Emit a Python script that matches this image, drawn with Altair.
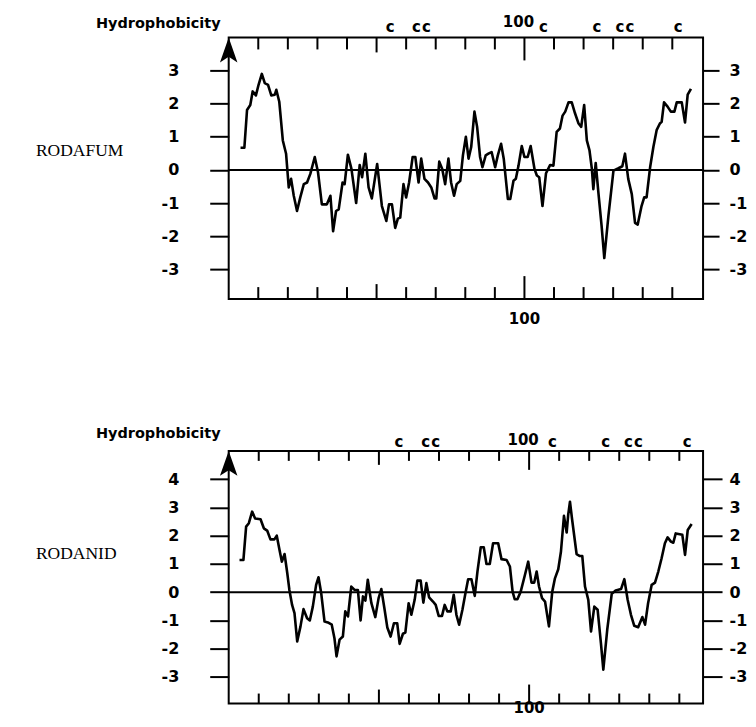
import altair as alt
import pandas as pd

# ---------------- data ----------------
# RODAFUM hydropathy profile: residue position / hydrophobicity
fum_pos = [4, 5.3, 6.2, 7.3, 8.1, 9.2, 10.1, 11.2, 12.2, 13.3, 14.4, 15.6, 16.1, 17.1, 18.3, 19.4,
           20.3, 21.1, 22, 23.1, 24.2, 25.4, 26.5, 27.6, 29.1, 30.2, 31.5, 33.2, 34.4, 35.3, 36.3,
           37.2, 38.5, 39.2, 40.3, 41.5, 43.1, 44.3, 45.1, 46.2, 47.3, 48.4, 50.2, 51.8, 53.3, 54.2,
           55.2, 56.3, 57.2, 58, 59.1, 60, 61, 62.2, 63.1, 64.2, 65.1, 66.2, 67.4, 68.5, 69.6, 70.2,
           71.2, 72.2, 73.2, 74.3, 75.2, 76.2, 77.1, 78.3, 79.2, 80.2, 81.1, 82, 83.1, 84, 85, 85.8,
           86.9, 87.8, 88.9, 90.1, 91, 92.1, 93, 94.4, 95.2, 96.3, 97.1, 98, 99.1, 100, 101.1, 102.1,
           103.4, 104.2, 105, 106.1, 107.3, 108.7, 109.8, 110.9, 112, 112.9, 113.8, 114.9, 116, 117.1,
           118.3, 119.2, 120.2, 121.1, 122, 122.8, 123.3, 124.1, 125, 126.1, 127, 128.4, 130.1, 131.8,
           133.1, 134, 135.1, 136.3, 137.4, 138.3, 139.6, 140.5, 141.3, 142.5, 143.6, 144.7, 145.8,
           146.4, 147.2, 148.4, 149.5, 150.7, 151.5, 153.2, 154.3, 155.2, 156.3]
fum_val = [0.67, 0.67, 1.81, 1.96, 2.37, 2.25, 2.57, 2.9, 2.62, 2.57, 2.25, 2.27, 2.42, 2.06, 0.89, 0.49,
           -0.53, -0.27, -0.78, -1.24, -0.83, -0.43, -0.38, -0.12, 0.39, -0.07, -1.04, -1.04, -0.78, -1.85, -1.24,
           -1.19, -0.38, -0.43, 0.46, 0.03, -1.0, 0.15, -0.22, 0.49, -0.53, -0.86, 0.18, -1.09, -1.54, -1.04,
           -1.04, -1.75, -1.47, -1.44, -0.43, -0.83, -0.38, 0.39, 0.39, -0.38, 0.34, -0.27, -0.38, -0.53, -0.86, -0.86,
           0.25, 0.03, -0.43, 0.34, -0.38, -0.78, -0.43, -0.33, 0.44, 1.0, 0.34, 0.69, 1.76, 1.30, 0.39, 0.08,
           0.44, 0.49, 0.54, 0.08, 0.44, 0.79, 0.34, -0.88, -0.88, -0.33, -0.27, 0.13, 0.72, 0.39, 0.39, 0.72,
           0.03, -0.17, -0.22, -1.09, -0.10, 0.15, 0.13, 1.15, 1.25, 1.64, 1.76, 2.04, 2.04, 1.71,
           1.40, 1.30, 1.96, 0.89, 0.59, 0.03, -0.58, 0.21, -0.68, -1.70, -2.66, -1.39, -0.02, 0.05,
           0.11, 0.49, -0.27, -0.73, -1.60, -1.65, -1.09, -0.83, -0.83, 0.08, 0.69, 1.20, 1.40,
           1.45, 2.04, 1.91, 1.76, 1.76, 2.04, 2.04, 1.43, 2.27, 2.45]

# RODANID hydropathy profile
nid_pos = [3.6, 4.9, 5.8, 6.7, 7.8, 8.8, 10.6, 11.7, 12.8, 13.9, 15.2, 16, 16.9, 17.7, 18.6, 19.5,
           20.2, 21.1, 21.9, 22.8, 23.9, 24.9, 26.1, 27, 28, 29.1, 29.9, 30.8, 31.9, 33, 34.3, 35.2,
           35.9, 36.9, 38, 38.8, 39.7, 40.8, 41.9, 43, 43.9, 44.7, 45.5, 46.3, 47.5, 48.8, 49.9, 50.8,
           51.8, 52.8, 53.9, 55, 56.1, 56.9, 58, 58.8, 59.9, 60.8, 61.9, 62.8, 63.9, 64.8, 65.8, 66.7,
           68, 68.9, 69.9, 71, 71.9, 72.8, 73.9, 74.9, 75.8, 76.7, 77.8, 78.8, 79.7, 80.8, 81.9, 82.8,
           83.9, 84.9, 85.8, 86.9, 88, 89.7, 90.8, 92.5, 93.6, 94.5, 95.2, 96.1, 97.2, 98.6, 99.7,
           100.8, 101.7, 102.5, 103.3, 104.3, 105.3, 106.6, 107.7, 108.6, 109.7, 110.6, 111.6, 112.5,
           113, 113.6, 114.3, 115.8, 116.9, 117.7, 118.6, 119.7, 120.6, 121.7, 122.8, 123.9, 124.7,
           126, 127.5, 128.8, 130.6, 131.7, 132.8, 133.9, 135, 136.3, 137.7, 138.6, 139.6, 140.8,
           141.9, 143, 144.1, 145.2, 146.1, 147.2, 148, 148.8, 149.7, 151, 151.9, 152.8, 154.1]
nid_val = [1.14, 1.14, 2.32, 2.44, 2.85, 2.61, 2.58, 2.26, 2.18, 1.87, 1.87, 2.0, 1.50, 1.08, 1.35, 0.67,
           0.08, -0.45, -0.74, -1.74, -1.21, -0.60, -0.92, -1.0, -0.51, 0.26, 0.53, -0.04, -1.04, -1.07, -1.15, -1.63,
           -2.27, -1.68, -1.57, -0.68, -0.86, 0.20, 0.08, 0.08, -1.0, -0.15, -0.30, 0.44, -0.39, -0.88, -0.21, 0.11,
           -0.55, -1.25, -1.57, -1.10, -1.10, -1.83, -1.47, -1.43, -0.39, -0.80, -0.27, 0.41, 0.41, -0.37, 0.32, -0.18,
           -0.33, -0.45, -0.84, -0.84, -0.45, -0.68, -0.68, -0.09, -0.80, -1.15, -0.62, -0.04, 0.46, 0.46, -0.13, 0.73,
           1.59, 1.59, 1.0, 1.0, 1.73, 1.73, 1.17, 1.14, 0.91, 0.02, -0.25, -0.25, 0.02, 0.61, 1.08,
           0.34, 0.34, 0.73, 0.20, -0.21, -0.33, -1.21, 0.02, 0.49, 0.81, 1.44, 2.70, 2.11,
           2.73, 3.20, 2.58, 1.35, 1.28, 1.28, 0.20, -0.27, -1.39, -0.51, -0.62, -1.80, -2.74,
           -1.33, -0.06, 0.06, 0.11, 0.46, -0.27, -0.80, -1.19, -1.24, -0.88, -1.15, -0.39, 0.26,
           0.34, 0.73, 1.20, 1.73, 1.94, 1.79, 1.75, 2.08, 2.06, 2.03, 1.32, 2.20, 2.41]

# cysteine positions marked "c" above each plot
fum_cys = [54.6, 63.5, 66.9, 106.4, 124.5, 132.3, 135.7, 152.0]
nid_cys = [56.7, 65.6, 68.9, 107.8, 125.5, 133.1, 136.4, 152.6]

minor_ticks = [10, 20, 30, 40, 60, 70, 80, 90, 110, 120, 130, 140, 150]
mid_ticks = [50]
major_ticks = [100]
labelled_tick = [100]

fum_yticks = [-3, -2, -1, 0, 1, 2, 3]
nid_yticks = [-3, -2, -1, 0, 1, 2, 3, 4]

BOLD = "DejaVu Sans"
ARROW = "M0,0L0.7,2L0,1.55L-0.7,2Z"


def panel(name, pos, val, cys, xdom, ydom, yticks, W, H, p):
    xs = alt.Scale(domain=xdom, nice=False, zero=False)
    ys = alt.Scale(domain=ydom, nice=False, zero=False)

    def X():
        return alt.X("pos:Q", scale=xs, axis=None)

    lab = dict(labelFont=BOLD, labelFontSize=16, labelFontWeight="bold", labelColor="black",
               labelExpr="'' + datum.value", domain=False, grid=False, tickColor="black",
               tickWidth=2, title=None, values=yticks)

    line = alt.Chart(pd.DataFrame({"pos": pos, "val": val})).mark_line(
        color="black", strokeWidth=2.6, strokeJoin="round"
    ).encode(
        x=X(),
        y=alt.Y("val:Q", scale=ys,
                axis=alt.Axis(orient="left", tickSize=19, labelPadding=p["lpad"], **lab)),
    )
    zero = alt.Chart(pd.DataFrame({"val": [0]})).mark_rule(color="black", strokeWidth=2).encode(
        y=alt.Y("val:Q", scale=ys,
                axis=alt.Axis(orient="right", tickSize=p["rtick"], labelPadding=p["rpad"], **lab)),
    )

    def ticks(lst, length):
        d = pd.DataFrame({"pos": lst})
        top = alt.Chart(d).mark_rule(color="black", strokeWidth=2).encode(
            x=X(), y=alt.value(0), y2=alt.value(length))
        bot = alt.Chart(d).mark_rule(color="black", strokeWidth=2).encode(
            x=X(), y=alt.value(H), y2=alt.value(H - length))
        return [top, bot]

    tick_layers = (ticks(minor_ticks, p["minor"]) + ticks(mid_ticks, p["mid"])
                   + ticks(major_ticks, p["major"]))

    txt = dict(font=BOLD, fontSize=15, fontWeight="bold", color="black", baseline="alphabetic")
    cyst = alt.Chart(pd.DataFrame({"pos": cys, "t": ["c"] * len(cys)})).mark_text(
        align="center", **txt).encode(x=X(), y=alt.value(p["cy"]), text="t:N")
    top100 = alt.Chart(pd.DataFrame({"pos": labelled_tick})).mark_text(
        align="center", dx=-6, **txt).encode(x=X(), y=alt.value(p["ty"]), text=alt.Text("pos:Q", format="d"))
    bot100 = alt.Chart(pd.DataFrame({"pos": labelled_tick})).mark_text(
        align="center", **txt).encode(x=X(), y=alt.value(H + p["by"]), text=alt.Text("pos:Q", format="d"))

    title = alt.Chart(pd.DataFrame({"t": ["Hydrophobicity"]})).mark_text(
        align="left", font=BOLD, fontSize=14.5, fontWeight="bold", color="black", baseline="alphabetic"
    ).encode(x=alt.value(-133), y=alt.value(p["hy"]), text="t:N")
    label = alt.Chart(pd.DataFrame({"t": [name]})).mark_text(
        align="left", font="Liberation Serif", fontSize=17.5, color="black", baseline="alphabetic"
    ).encode(x=alt.value(-193), y=alt.value(p["ny"]), text="t:N")
    arrow = alt.Chart(pd.DataFrame({"t": [0]})).mark_point(
        shape=ARROW, size=625, filled=True, color="black", opacity=1, strokeWidth=0
    ).encode(x=alt.value(0), y=alt.value(0))

    return alt.layer(line, zero, *tick_layers, cyst, top100, bot100, title, label, arrow).resolve_axis(
        y="independent").properties(width=W, height=H)


top = panel("RODAFUM", fum_pos, fum_val, fum_cys, [0, 160.4], [-3.9, 4.0], fum_yticks, 475, 262,
            dict(lpad=31, rtick=16, rpad=10, minor=12, mid=15, major=23,
                 cy=-5, ty=-10, by=25, hy=-9, ny=119))
bottom = panel("RODANID", nid_pos, nid_val, nid_cys, [0, 157.9], [-3.94, 5.0], nid_yticks, 475, 253,
               dict(lpad=31, rtick=19, rpad=7, minor=10, mid=14, major=19,
                    cy=-4, ty=-6, by=9, hy=-13, ny=108))

chart = alt.vconcat(top, bottom, spacing=97).properties(
    padding={"left": 27, "top": 6, "right": 0, "bottom": 0}
).configure_view(stroke="black", strokeWidth=2)

chart.save("out.html", embed_options={"renderer": "svg", "actions": False})
